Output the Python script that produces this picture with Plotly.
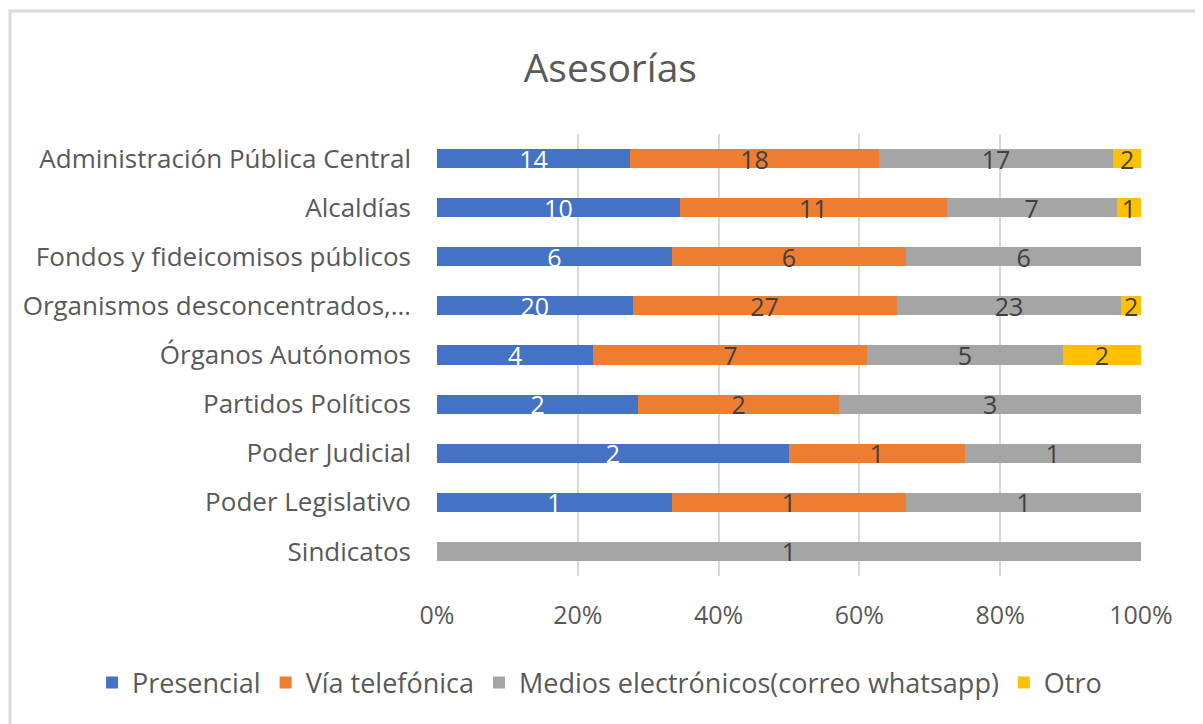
import plotly.graph_objects as go

categories = [
    "Administración Pública Central",
    "Alcaldías",
    "Fondos y fideicomisos públicos",
    "Organismos desconcentrados,…",
    "Órganos Autónomos",
    "Partidos Políticos",
    "Poder Judicial",
    "Poder Legislativo",
    "Sindicatos",
]

presencial = [14, 10, 6, 20, 4, 2, 2, 1, None]
telefonica = [18, 11, 6, 27, 7, 2, 1, 1, None]
electronicos = [17, 7, 6, 23, 5, 3, 1, 1, 1]
otro = [2, 1, None, 2, 2, None, None, None, None]

series = [
    ("Presencial", presencial, "#4472c4", "white"),
    ("Vía telefónica", telefonica, "#ed7d31", "#404040"),
    ("Medios electrónicos(correo whatsapp)", electronicos, "#a5a5a5", "#404040"),
    ("Otro", otro, "#ffc000", "#404040"),
]

FONT = "Open Sans"
FS = 25

fig = go.Figure()
for name, vals, color, txtcolor in series:
    fig.add_trace(
        go.Bar(
            y=categories,
            x=vals,
            name=name,
            orientation="h",
            marker=dict(color=color, line=dict(width=0)),
            text=[("" if v is None else str(v)) for v in vals],
            textposition="inside",
            insidetextanchor="middle",
            textangle=0,
            textfont=dict(color=txtcolor, size=FS, family=FONT),
        )
    )

# page body has an 8px margin, so the figure is laid out 8px smaller
fig.update_layout(
    width=1195,
    height=716,
    barmode="stack",
    barnorm="percent",
    bargap=0.61,
    paper_bgcolor="white",
    plot_bgcolor="white",
    margin=dict(l=429, r=62, t=126, b=148, autoexpand=False),
    font=dict(family=FONT, color="#595959", size=FS),
    title=dict(
        text="Asesorías",
        x=0.504,
        xanchor="center",
        y=0.916,
        yanchor="middle",
        font=dict(size=39, color="#595959", family=FONT),
    ),
    uniformtext=dict(minsize=FS, mode="show"),
    legend=dict(
        orientation="h",
        x=-0.49,
        xanchor="left",
        y=-0.242,
        yanchor="middle",
        font=dict(size=27, color="#595959"),
        itemwidth=30,
        traceorder="normal",
    ),
    shapes=[
        dict(
            type="rect",
            xref="paper",
            yref="paper",
            x0=-0.6065,
            x1=1.2,
            y0=-0.5,
            y1=1.278,
            line=dict(color="#d9d9d9", width=3),
            fillcolor="rgba(0,0,0,0)",
            layer="below",
        )
    ],
)

fig.update_xaxes(
    range=[0, 100],
    tickvals=[0, 20, 40, 60, 80, 100],
    ticktext=["0%", "20%", "40%", "60%", "80%", "100%"],
    showgrid=True,
    gridcolor="#d9d9d9",
    gridwidth=2,
    zeroline=False,
    showline=False,
    ticks="",
    ticklabelstandoff=22,
)
fig.update_yaxes(
    categoryorder="array",
    categoryarray=categories,
    autorange="reversed",
    showgrid=False,
    showline=False,
    ticks="",
    ticklabelstandoff=25,
    tickfont=dict(size=26),
)

fig.write_html("out.html")
